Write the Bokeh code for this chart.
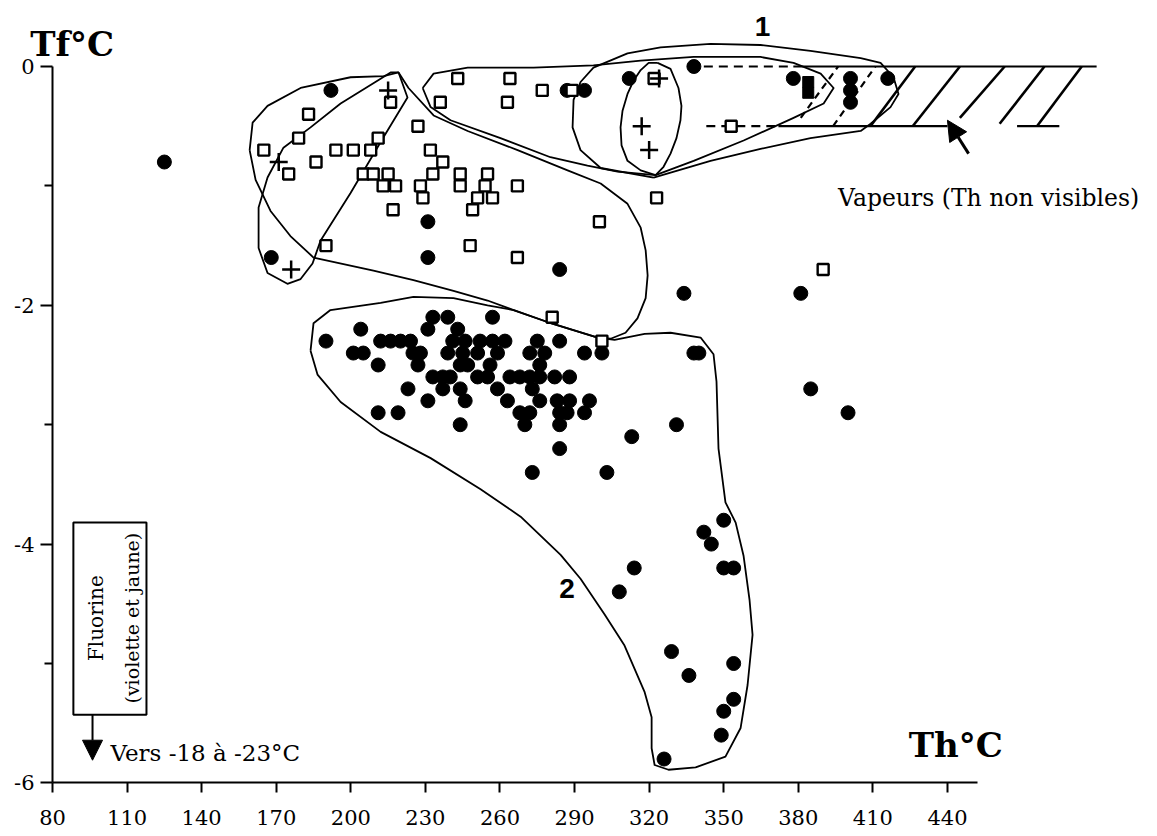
import math
from bokeh.plotting import figure
from bokeh.models import Range1d, FixedTicker, Label, Arrow, NormalHead, LinearAxis
from bokeh.embed import file_html
from bokeh.resources import INLINE

# ---------------- data (Th °C, Tf °C) ----------------
x_ticks = [80, 110, 140, 170, 200, 230, 260, 290, 320, 350, 380, 410, 440]
y_ticks = [-6, -4, -2, 0]
y_minor = [-5, -3, -1]

dot_th = [125, 192, 168, 231, 231, 284, 334, 381, 287, 294, 312, 338, 378, 401, 401, 401, 416,
          233, 239, 257,
          204, 231, 243,
          190, 212, 216, 220, 224, 241, 246, 252, 257, 262, 275, 284,
          201, 205, 225, 228, 239, 245, 251, 259, 272, 278, 294, 301, 338, 340,
          211, 227, 244, 247, 256, 276,
          233, 237, 240, 251, 255, 264, 268, 272, 276, 282, 288,
          223, 237, 244, 259, 273, 385,
          231, 246, 263, 276, 283, 288, 296,
          211, 219, 268, 272, 284, 287, 294, 400,
          244, 270, 284, 331,
          313, 284, 273, 303,
          350, 342, 345, 350, 354, 314, 308, 329, 354, 336, 354, 350, 349, 326]
dot_tf = [-0.8, -0.2, -1.6, -1.3, -1.6, -1.7, -1.9, -1.9, -0.2, -0.2, -0.1, 0.0, -0.1, -0.1, -0.2, -0.3, -0.1,
          -2.1, -2.1, -2.1,
          -2.2, -2.2, -2.2,
          -2.3, -2.3, -2.3, -2.3, -2.3, -2.3, -2.3, -2.3, -2.3, -2.3, -2.3, -2.3,
          -2.4, -2.4, -2.4, -2.4, -2.4, -2.4, -2.4, -2.4, -2.4, -2.4, -2.4, -2.4, -2.4, -2.4,
          -2.5, -2.5, -2.5, -2.5, -2.5, -2.5,
          -2.6, -2.6, -2.6, -2.6, -2.6, -2.6, -2.6, -2.6, -2.6, -2.6, -2.6,
          -2.7, -2.7, -2.7, -2.7, -2.7, -2.7,
          -2.8, -2.8, -2.8, -2.8, -2.8, -2.8, -2.8,
          -2.9, -2.9, -2.9, -2.9, -2.9, -2.9, -2.9, -2.9,
          -3.0, -3.0, -3.0, -3.0,
          -3.1, -3.2, -3.4, -3.4,
          -3.8, -3.9, -4.0, -4.2, -4.2, -4.2, -4.4, -4.9, -5.0, -5.1, -5.3, -5.4, -5.6, -5.8]

sq_th = [165, 179, 183, 175, 186, 194, 201, 208, 211, 216, 205, 209, 215, 213, 218, 217, 190,
         227, 232, 237, 233, 228, 229, 244, 244, 255, 254, 257, 251, 249, 267, 243, 264, 236,
         263, 277, 289, 322, 323, 300, 248, 267, 281, 301, 353, 390]
sq_tf = [-0.7, -0.6, -0.4, -0.9, -0.8, -0.7, -0.7, -0.7, -0.6, -0.3, -0.9, -0.9, -0.9, -1.0, -1.0, -1.2, -1.5,
         -0.5, -0.7, -0.8, -0.9, -1.0, -1.1, -0.9, -1.0, -0.9, -1.0, -1.1, -1.1, -1.2, -1.0, -0.1, -0.1, -0.3,
         -0.3, -0.2, -0.2, -0.1, -1.1, -1.3, -1.5, -1.6, -2.1, -2.3, -0.5, -1.7]

plus_th = [171, 176, 215, 317, 320, 324]
plus_tf = [-0.8, -1.7, -0.2, -0.5, -0.7, -0.1]

fsq_th = [384, 384]
fsq_tf = [-0.13, -0.22]

# envelopes (hand-drawn outlines)
envA_th = [219.2, 222.8, 213.2, 199.9, 187.8, 184.6, 179.8, 174.5, 166.5, 162.9, 162.9, 166.5, 172.9, 183.8, 195.9, 210.7, 216.0]
envA_tf = [-0.05, -0.26, -0.59, -1.06, -1.46, -1.65, -1.78, -1.82, -1.73, -1.52, -1.18, -0.93, -0.68, -0.51, -0.31, -0.12, -0.05]

envB_th = [159.3, 160.5, 166.5, 179.8, 199.9, 213.2, 219.2, 223.2, 233.3, 247.0, 267.1, 287.2, 300.5, 311.3, 316.6, 318.6,
           319.4, 318.6, 315.3, 310.5, 304.5, 299.3, 279.1, 265.5, 255.0, 241.3, 225.2, 209.1, 185.0, 175.7, 167.7, 161.7]
envB_tf = [-0.70, -0.47, -0.33, -0.18, -0.09, -0.08, -0.05, -0.18, -0.41, -0.54, -0.70, -0.87, -0.98, -1.15, -1.35, -1.54,
           -1.75, -1.94, -2.11, -2.23, -2.28, -2.27, -2.14, -2.04, -1.96, -1.88, -1.79, -1.71, -1.60, -1.42, -1.21, -0.95]

envC_th = [228.9, 233.3, 247.0, 273.5, 297.6, 316.6, 337.9, 364.8, 378.1, 389.0, 394.2, 390.2, 378.1, 358.0, 337.9,
           322.6, 307.3, 295.2, 280.3, 260.2, 240.1, 232.1]
envC_tf = [-0.18, -0.06, -0.01, -0.01, 0.01, 0.05, 0.08, 0.08, 0.03, -0.06, -0.18, -0.31, -0.43, -0.62, -0.79,
           -0.91, -0.88, -0.83, -0.76, -0.60, -0.45, -0.34]

env1_th = [321.8, 300.5, 292.4, 289.2, 289.6, 292.4, 297.6, 311.3, 324.6, 344.7, 364.8, 384.9, 405.1, 413.1, 418.3,
           420.3, 417.1, 409.1, 405.1, 384.9, 364.8, 344.7]
env1_tf = [-0.93, -0.85, -0.70, -0.51, -0.28, -0.13, -0.01, 0.11, 0.16, 0.19, 0.18, 0.13, 0.07, 0.03, -0.09,
           -0.23, -0.34, -0.48, -0.54, -0.60, -0.69, -0.79]

envP_th = [323.4, 328.6, 331.8, 333.0, 332.6, 331.0, 328.6, 325.8, 322.6, 316.6, 311.3, 308.9, 308.5, 309.3, 311.3, 313.7, 316.6, 319.8]
envP_tf = [0.03, -0.02, -0.18, -0.33, -0.45, -0.60, -0.73, -0.84, -0.91, -0.87, -0.79, -0.66, -0.51, -0.37, -0.23, -0.12, -0.03, 0.03]

env2_th = [183.8, 185.0, 191.8, 212.0, 225.2, 241.3, 255.0, 265.5, 279.1, 299.3, 306.1, 318.2, 328.6, 340.7, 345.9,
           347.1, 347.9, 350.7, 354.8, 358.0, 360.4, 361.6, 359.6, 356.8, 350.7, 338.7, 327.8, 322.2, 321.0, 321.0,
           318.2, 310.1, 302.1, 292.4, 284.4, 268.3, 252.2, 232.1, 212.0, 195.9, 186.6]
env2_tf = [-2.38, -2.15, -2.04, -1.98, -1.93, -1.94, -2.00, -2.04, -2.14, -2.27, -2.29, -2.24, -2.23, -2.27, -2.41,
           -2.64, -3.20, -3.65, -3.82, -4.10, -4.47, -4.76, -5.18, -5.54, -5.78, -5.87, -5.89, -5.85, -5.71, -5.45,
           -5.24, -4.85, -4.59, -4.29, -4.09, -3.77, -3.54, -3.28, -3.06, -2.81, -2.58]

# vapour band (Tf 0 to -0.5)
band_top = 0.0
band_bot = -0.5
hatch_x0 = [409, 426, 445, 461, 476]
hatch_y0 = [-0.5, -0.5, -0.43, -0.48, -0.5]
hatch_x1 = [427, 445, 463, 479, 494]
hatch_y1 = [0, 0, 0, 0, 0]
dhatch_x0 = [381, 394]
dhatch_y0 = [-0.43, -0.5]
dhatch_x1 = [396, 411]
dhatch_y1 = [0, 0]

SERIF = "DejaVu Serif"
SANS = "Liberation Sans"

W, H = 1155, 834
PX_PER_TH = 2.486
PX_PER_TF = 119.4
x0 = 80 - 52 / PX_PER_TH
y1 = 66 / PX_PER_TF

p = figure(width=W, height=H, x_range=Range1d(x0, x0 + W / PX_PER_TH),
           y_range=Range1d(y1 - H / PX_PER_TF, y1),
           output_backend="svg", toolbar_location=None,
           x_axis_location=None, y_axis_location=None,
           min_border_left=0, min_border_right=0, min_border_top=0, min_border_bottom=0)
p.xgrid.visible = False
p.ygrid.visible = False
p.outline_line_color = None
p.background_fill_color = "white"
p.border_fill_color = "white"

xa = LinearAxis(fixed_location=-6)
xa.ticker = FixedTicker(ticks=x_ticks, minor_ticks=[])
xa.bounds = (80, 452)
xa.axis_line_width = 2
xa.axis_line_color = "black"
xa.major_tick_line_width = 2
xa.major_tick_out = 10
xa.major_tick_in = 0
xa.minor_tick_out = 0
xa.major_label_text_font = SERIF
xa.major_label_text_font_size = "21px"
xa.major_label_text_color = "black"
xa.major_label_standoff = 17
p.add_layout(xa, "below")

ya = LinearAxis(fixed_location=80)
ya.ticker = FixedTicker(ticks=y_ticks, minor_ticks=y_minor)
ya.bounds = (-6, 0)
ya.axis_line_width = 2
ya.axis_line_color = "black"
ya.major_tick_line_width = 2
ya.minor_tick_line_width = 2
ya.major_tick_out = 12
ya.major_tick_in = 0
ya.minor_tick_out = 8
ya.minor_tick_in = 0
ya.major_label_text_font = SERIF
ya.major_label_text_font_size = "21px"
ya.major_label_text_color = "black"
ya.major_label_standoff = 6
ya.major_label_overrides = {t: str(t) for t in y_ticks}
p.add_layout(ya, "left")

# envelopes
for th, tf in [(envA_th, envA_tf), (envB_th, envB_tf), (envC_th, envC_tf), (env1_th, env1_tf),
               (envP_th, envP_tf), (env2_th, env2_tf)]:
    p.line(th + [th[0]], tf + [tf[0]], line_color="black", line_width=1.8, line_join="round")

# vapour band
p.line([378, 500], [band_top, band_top], line_color="black", line_width=2.2)
p.line([342, 378], [band_top, band_top], line_color="black", line_width=2.2, line_dash="9 6")
p.line([372, 440], [band_bot, band_bot], line_color="black", line_width=2.2)
p.line([468, 485], [band_bot, band_bot], line_color="black", line_width=2.2)
p.line([343, 372], [band_bot, band_bot], line_color="black", line_width=2.2, line_dash="9 6")
p.segment(x0=hatch_x0, y0=hatch_y0, x1=hatch_x1, y1=hatch_y1, line_color="black", line_width=2.6)
p.segment(x0=dhatch_x0, y0=dhatch_y0, x1=dhatch_x1, y1=dhatch_y1, line_color="black", line_width=2.2,
          line_dash="7 5")
p.add_layout(Arrow(end=NormalHead(size=20, fill_color="black", line_color="black"),
                   x_start=448.5, y_start=-0.73, x_end=440, y_end=-0.45,
                   line_color="black", line_width=3))

# markers
p.scatter(dot_th, dot_tf, marker="circle", size=14, fill_color="black", line_color="black")
p.scatter(sq_th, sq_tf, marker="square", size=11, fill_color="white", line_color="black", line_width=2.4)
p.scatter(fsq_th, fsq_tf, marker="square", size=11, fill_color="black", line_color="black")
p.scatter(plus_th, plus_tf, marker="cross", size=18, line_color="black", line_width=2.5)

# Fluorine box
p.quad(left=[88.4], right=[117.8], top=[-3.82], bottom=[-5.43], fill_color=None,
       line_color="black", line_width=2)
p.add_layout(Arrow(end=NormalHead(size=20, fill_color="black", line_color="black"),
                   x_start=96.1, y_start=-5.43, x_end=96.1, y_end=-5.81,
                   line_color="black", line_width=2))

# texts
p.add_layout(Label(x=71, y=0.19, text="Tf°C", text_font=SERIF, text_font_style="bold",
                   text_font_size="34px", text_align="left", text_baseline="alphabetic", text_color="black"))
p.add_layout(Label(x=424.4, y=-5.68, text="Th°C", text_font=SERIF, text_font_style="bold",
                   text_font_size="34px", text_align="left", text_baseline="alphabetic", text_color="black"))
p.add_layout(Label(x=365.6, y=0.335, text="1", text_font=SANS, text_font_style="bold",
                   text_font_size="28px", text_align="center", text_baseline="middle", text_color="black"))
p.add_layout(Label(x=287, y=-4.37, text="2", text_font=SANS, text_font_style="bold",
                   text_font_size="28px", text_align="center", text_baseline="middle", text_color="black"))
p.add_layout(Label(x=396, y=-1.10, text="Vapeurs (Th non visibles)", text_font=SERIF,
                   text_font_size="23.5px", text_align="left", text_baseline="alphabetic", text_color="black"))
p.add_layout(Label(x=103.3, y=-5.75, text="Vers -18 à -23°C", text_font=SERIF,
                   text_font_size="23px", text_align="left", text_baseline="alphabetic", text_color="black"))
p.add_layout(Label(x=97.3, y=-4.62, text="Fluorine", text_font=SERIF, angle=math.pi / 2,
                   text_font_size="20px", text_align="center", text_baseline="middle", text_color="black"))
p.add_layout(Label(x=111.8, y=-4.62, text="(violette et jaune)", text_font=SERIF, angle=math.pi / 2,
                   text_font_size="19px", text_align="center", text_baseline="middle", text_color="black"))

open("out.html", "w").write(file_html(p, INLINE))
